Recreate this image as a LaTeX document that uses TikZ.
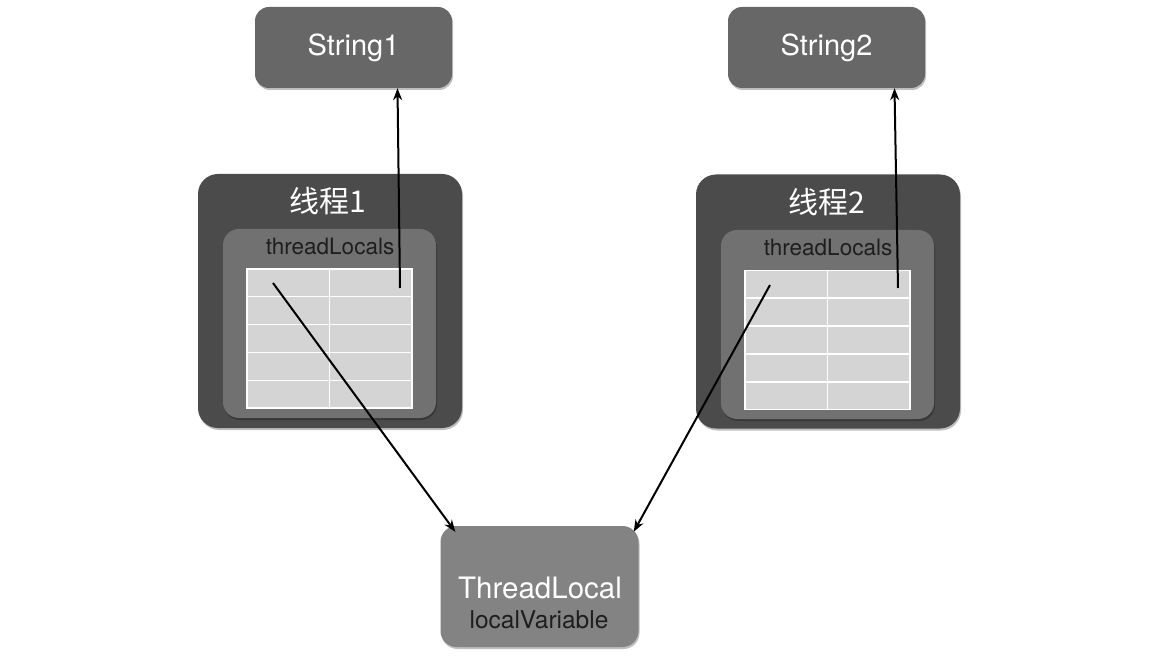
\documentclass[tikz,border=0pt]{standalone}
\usepackage{fontspec}
\setmainfont{TeX Gyre Heros}
\newfontfamily\cjk{Noto Sans CJK SC}
\usetikzlibrary{arrows.meta,calc,shadows}
\definecolor{strbox}{HTML}{676767}
\definecolor{outerbox}{HTML}{4B4B4B}
\definecolor{innerbox}{HTML}{717171}
\definecolor{cellgray}{HTML}{D4D4D4}
\definecolor{tlbox}{HTML}{838383}
\definecolor{darktext}{HTML}{1E1E1E}
\begin{document}
\begin{tikzpicture}[x=1pt,y=-1pt,
  shad/.style={drop shadow={shadow xshift=1pt,shadow yshift=-2pt,opacity=0.25,fill=black}},
  strnode/.style={rectangle,rounded corners=14pt,inner sep=0pt,fill=strbox,shad,
    minimum width=197pt,minimum height=81pt,text=white,font=\fontsize{29}{32}\selectfont},
  outernode/.style={rectangle,rounded corners=20pt,inner sep=0pt,fill=outerbox,shad,
    minimum width=264pt,minimum height=254pt},
  innernode/.style={rectangle,rounded corners=16pt,inner sep=0pt,fill=innerbox,shad,
    minimum width=213pt,minimum height=189pt},
  tblnode/.style={rectangle,inner sep=0pt,fill=cellgray,draw=white,line width=1.2pt,
    minimum width=165pt,minimum height=139pt},
  tlnode/.style={rectangle,rounded corners=16pt,inner sep=0pt,fill=tlbox,shad,
    minimum width=198pt,minimum height=121pt},
  thrlabel/.style={text=white,font=\cjk\fontsize{30}{34}\selectfont},
  tllabel/.style={text=darktext,font=\fontsize{22.5}{26}\selectfont},
  gridline/.style={draw=white,line width=1.2pt},
  arr/.style={draw=black,line width=2pt,-{Stealth[length=12pt,width=9pt]}}
]
\useasboundingbox (0,0) rectangle (1168,660);

% top string boxes
\node[strnode] (s1) at (353.5,47.5) {String1};
\node[strnode] (s2) at (826.5,47.5) {String2};

% thread 1
\node[outernode] (t1) at (330,301) {};
\node[thrlabel] (t1l) at (328,201) {线程1};
\node[innernode] (i1) at (329.5,323.5) {};
\node[tllabel] (i1l) at (330,246) {threadLocals};
\node[tblnode] (tb1) at (329.5,338.5) {};
\foreach \i in {1,...,4}
  \draw[gridline] ($(tb1.north west)!\i/5!(tb1.south west)$) -- ($(tb1.north east)!\i/5!(tb1.south east)$);
\draw[gridline] (tb1.north) -- (tb1.south);

% thread 2
\node[outernode] (t2) at (828,301.5) {};
\node[thrlabel] (t2l) at (827,202) {线程2};
\node[innernode] (i2) at (827.5,324.5) {};
\node[tllabel] (i2l) at (828,247) {threadLocals};
\node[tblnode] (tb2) at (827.5,340) {};
\foreach \i in {1,...,4}
  \draw[gridline] ($(tb2.north west)!\i/5!(tb2.south west)$) -- ($(tb2.north east)!\i/5!(tb2.south east)$);
\draw[gridline] (tb2.north) -- (tb2.south);

% ThreadLocal box
\node[tlnode] (tl) at (539.5,586.5) {};
\node[text=white,font=\fontsize{29.5}{33}\selectfont] (tlt) at (540,588) {ThreadLocal};
\node[text=darktext,font=\fontsize{24.5}{28}\selectfont] (tlv) at (539,620) {localVariable};

% arrows
\coordinate (a1) at (400,288);
\coordinate (a2) at (898,288);
\coordinate (a3) at (273,283);
\coordinate (a4) at (770,285);
\draw[arr] (a1) -- ($(s1.south)+(44,0)$);
\draw[arr] (a2) -- ($(s2.south)+(68,0)$);
\draw[arr] (a3) -- ($(tl.north west)+(15,6)$);
\draw[arr] (a4) -- ($(tl.north east)+(-5,6)$);
\end{tikzpicture}
\end{document}
